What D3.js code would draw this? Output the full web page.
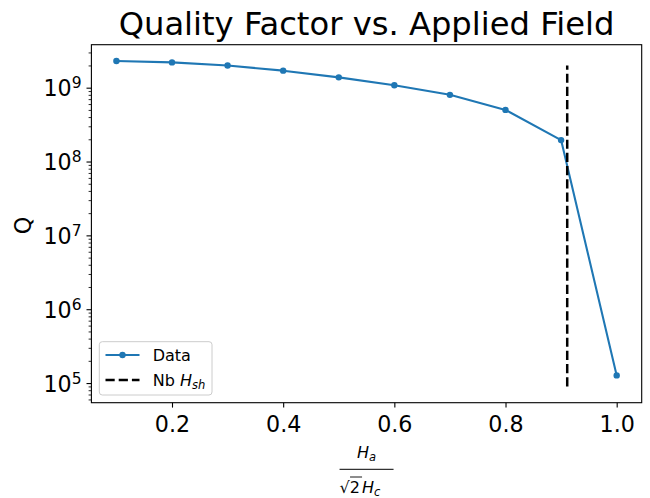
<!DOCTYPE html>
<html>
<head>
<meta charset="utf-8">
<script src="https://cdn.jsdelivr.net/npm/d3@7"></script>
<style>
  body { margin: 0; background: #fff; }
  svg { display: block; font-family: "DejaVu Sans", sans-serif; }
</style>
</head>
<body>
<script>
// field ratio Ha / (sqrt2 Hc) and quality factor
const fieldRatio = [0.1, 0.2, 0.3, 0.4, 0.5, 0.6, 0.7, 0.8, 0.9, 1.0];
const qValues = [2.3e9, 2.2e9, 2.0e9, 1.7e9, 1.38e9, 1.08e9, 8.0e8, 5.0e8, 1.95e8, 1.27e5];
const hshX = 0.911;
const hshRange = [9e4, 2e9];
const xTicks = [0.2, 0.4, 0.6, 0.8, 1.0];
const yExponents = [5, 6, 7, 8, 9];

const W = 650, H = 498;
const plotL = 91.4, plotR = 641.7, plotT = 44.7, plotB = 402.7;
const blue = "#1f77b4";

const svg = d3.select("body").append("svg")
  .attr("width", W)
  .attr("height", H);

const x = d3.scaleLinear().domain([0.055, 1.045]).range([plotL, plotR]);
const y = d3.scaleLog().domain([Math.pow(10, 4.734), Math.pow(10, 9.582)]).range([plotB, plotT]);

// title
svg.append("text")
  .attr("x", (plotL + plotR) / 2)
  .attr("y", 35)
  .attr("text-anchor", "middle")
  .attr("font-size", "32.2px")
  .text("Quality Factor vs. Applied Field");

// minor ticks on the log axis
const minor = [];
for (let e = 4; e <= 9; e++) {
  for (let m = 2; m <= 9; m++) {
    const v = m * Math.pow(10, e);
    if (v >= y.domain()[0] && v <= y.domain()[1]) minor.push(v);
  }
}
svg.append("g")
  .attr("transform", `translate(${plotL},0)`)
  .call(d3.axisLeft(y).tickValues(minor).tickSize(2.8).tickFormat(""))
  .call(g => g.select(".domain").remove())
  .call(g => g.selectAll("line").attr("stroke-width", 0.83));

// major y ticks
const yAxis = svg.append("g")
  .attr("transform", `translate(${plotL},0)`)
  .call(d3.axisLeft(y).tickValues(yExponents.map(e => Math.pow(10, e)))
    .tickSize(4.9).tickPadding(4.9).tickFormat(() => "10"));
yAxis.select(".domain").remove();
yAxis.selectAll("line").attr("stroke-width", 1.1);
yAxis.selectAll("text")
  .attr("font-size", "22.2px")
  .attr("font-family", "DejaVu Sans")
  .attr("fill", "#000")
  .attr("dy", "0.36em")
  .each(function(d, i) {
    d3.select(this).append("tspan")
      .attr("dy", "-0.5em")
      .attr("font-size", "15.5px")
      .text(yExponents[i]);
  });

// x axis
const xAxis = svg.append("g")
  .attr("transform", `translate(0,${plotB})`)
  .call(d3.axisBottom(x).tickValues(xTicks).tickSize(4.9).tickPadding(4.9).tickFormat(d3.format(".1f")));
xAxis.select(".domain").remove();
xAxis.selectAll("line").attr("stroke-width", 1.1);
xAxis.selectAll("text")
  .attr("font-size", "22.2px")
  .attr("font-family", "DejaVu Sans")
  .attr("fill", "#000")
  .attr("dy", "0.86em");

// frame
svg.append("rect")
  .attr("x", plotL).attr("y", plotT)
  .attr("width", plotR - plotL).attr("height", plotB - plotT)
  .attr("fill", "none").attr("stroke", "#000").attr("stroke-width", 1.1);

// data line and points
const line = d3.line()
  .x((d, i) => x(fieldRatio[i]))
  .y(d => y(d));

svg.append("path")
  .datum(qValues)
  .attr("fill", "none")
  .attr("stroke", blue)
  .attr("stroke-width", 2.08)
  .attr("stroke-linejoin", "round")
  .attr("d", line);

svg.selectAll("circle.pt")
  .data(qValues)
  .join("circle")
  .attr("class", "pt")
  .attr("cx", (d, i) => x(fieldRatio[i]))
  .attr("cy", d => y(d))
  .attr("r", 3.2)
  .attr("fill", blue);

// Nb Hsh marker
svg.append("line")
  .attr("x1", x(hshX)).attr("x2", x(hshX))
  .attr("y1", y(hshRange[0])).attr("y2", y(hshRange[1]))
  .attr("stroke", "#000")
  .attr("stroke-width", 2.5)
  .attr("stroke-dasharray", "9.2,4");

// legend
const lg = svg.append("g");
lg.append("rect")
  .attr("x", 99.3).attr("y", 341.7)
  .attr("width", 112.7).attr("height", 53.3)
  .attr("rx", 3)
  .attr("fill", "#fff").attr("fill-opacity", 0.8)
  .attr("stroke", "#cccccc").attr("stroke-width", 1);
lg.append("line")
  .attr("x1", 105.5).attr("x2", 139.5).attr("y1", 355).attr("y2", 355)
  .attr("stroke", blue).attr("stroke-width", 2.08);
lg.append("circle").attr("cx", 122.5).attr("cy", 355).attr("r", 3.2).attr("fill", blue);
lg.append("text").attr("x", 152.7).attr("y", 360.6).attr("font-size", "16px").text("Data");
lg.append("line")
  .attr("x1", 105.5).attr("x2", 139.5).attr("y1", 380).attr("y2", 380)
  .attr("stroke", "#000").attr("stroke-width", 2.5)
  .attr("stroke-dasharray", "9.2,4");
const nb = lg.append("text").attr("x", 152.7).attr("y", 385.6).attr("font-size", "16px");
nb.append("tspan").text("Nb ");
nb.append("tspan").attr("font-style", "italic").text("H");
nb.append("tspan").attr("font-style", "italic").attr("font-size", "11.5px").attr("dy", 3).text("sh");

// y label
svg.append("text")
  .attr("transform", "translate(31,225.5) rotate(-90)")
  .attr("text-anchor", "middle")
  .attr("font-size", "22.2px")
  .text("Q");

// x label: Ha / (sqrt(2) Hc)
const cx = (plotL + plotR) / 2;
const num = svg.append("text")
  .attr("x", cx).attr("y", 458.3)
  .attr("text-anchor", "middle")
  .attr("font-size", "16px");
num.append("tspan").attr("font-style", "italic").text("H");
num.append("tspan").attr("font-style", "italic").attr("font-size", "11.5px").attr("dy", 3).text("a");
svg.append("line")
  .attr("x1", cx - 27).attr("x2", cx + 27)
  .attr("y1", 469.3).attr("y2", 469.3)
  .attr("stroke", "#000").attr("stroke-width", 1);
const den = svg.append("text")
  .attr("x", cx - 27).attr("y", 493.4)
  .attr("font-size", "16px");
den.append("tspan").text("\u221A");
den.append("tspan").text("2");
den.append("tspan").attr("dx", 2).attr("font-style", "italic").text("H");
den.append("tspan").attr("font-style", "italic").attr("font-size", "11.5px").attr("dy", 3).text("c");
// overline of the root
svg.append("line")
  .attr("x1", cx - 16.5).attr("x2", cx - 4.5)
  .attr("y1", 477).attr("y2", 477)
  .attr("stroke", "#000").attr("stroke-width", 0.9);
</script>
</body>
</html>
